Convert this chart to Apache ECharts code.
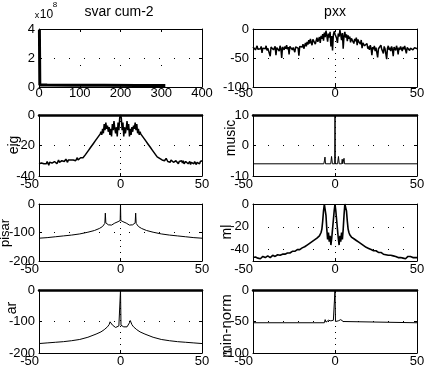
<!DOCTYPE html>
<html><head><meta charset="utf-8">
<script src="https://cdn.jsdelivr.net/npm/echarts@6/dist/echarts.min.js"></script>
<style>html,body{margin:0;padding:0;background:#fff}#c{width:436px;height:375px}</style>
</head><body><div id="c"></div>
<script>
// ---------- data ----------
const svarX = [1, 2, 20, 80, 160, 240, 310];
const svarY = [3.93, 0.14, 0.13, 0.12, 0.12, 0.11, 0.11];

// frequency axis -50 .. 50 step 0.5 (201 samples)
const freqX = [];
for (let i = 0; i <= 200; i++) freqX.push(-50 + i * 0.5);

const pxxY = [
 -31,-34,-30,-36,-33,-29,-35,-38,-32,-34,-30,-41,-33,-31,-36,-34,-29,-37,-33,-35,
 -32,-47,-31,-34,-28,-36,-33,-30,-45,-32,-35,-31,-38,-29,-34,-50,-31,-33,-36,-30,
 -34,-28,-35,-31,-44,-30,-33,-27,-36,-32,-29,-40,-31,-34,-28,-33,-46,-30,-32,-27,
 -31,-26,-34,-29,-24,-30,-22,-27,-19,-25,-17,-23,-28,-18,-21,-16,-26,-20,-15,-22,
 -18,-14,-24,-12,-17,-9,-20,-6,-14,-3,-11,-22,-8,-15,-5,-30,-12,-37,-10,-4,
 -9,
 -6,-16,-24,-8,-13,-2,-10,-19,-7,-34,-12,-5,-15,-9,-21,-11,-17,-13,-23,-16,
 -19,-14,-25,-17,-21,-15,-28,-18,-22,-20,-26,-19,-33,-24,-21,-29,-27,-31,-25,-34,
 -30,-36,-28,-33,-45,-31,-35,-29,-38,-32,-30,-49,-34,-31,-37,-28,-35,-33,-42,-30,
 -34,-31,-52,-33,-29,-36,-32,-38,-30,-35,-47,-31,-33,-37,-29,-34,-44,-32,-36,-30,
 -33,-38,-31,-35,-29,-36,-42,-32,-34,-30,-37,-33,-35,-31,-36,-34,-32,-35,-33,-34
];

const eigY = [
 -32,-31,-33,-31.5,-32.5,-30.5,-32,-33,-31,-32,-30.5,-31.5,-33,-31,-32,-30,-31.5,-32.5,-31,-30.5,
 -31.5,-30,-32,-31,-29.5,-31,-30.5,-32,-30,-31,-29.5,-30.5,-31.5,-29,-30,-31,-29.5,-30,-28.5,-29.5,
 -30,-29,-29.5,-28.5,-29,-30,-29,-28,-29.5,-28.5,-29,-28,-28.5,-27.5,-28,-27,-27.5,-26,-25.5,-24.5,
 -24,-23,-22.5,-21.5,-21,-20,-19.5,-18.5,-18,-17,-16.5,-15.5,-15,-14,-13.5,-12.5,-11,-13,-9,-12,
 -6,-10,-5,-9,-7,-11,-8,-13,-9,-14,-6,-10,-4,-9,-12,-8,-14,-5,-10,-2,
 0,
 -2,-10,-5,-14,-8,-12,-9,-4,-10,-6,-14,-9,-13,-8,-11,-7,-9,-5,-10,-6,
 -12,-9,-13,-11,-12.5,-13.5,-14,-15,-15.5,-16.5,-17,-18,-18.5,-19.5,-20,-21,-21.5,-22.5,-23,-24,
 -24.5,-25.5,-26,-27,-27.5,-28,-27,-28.5,-29,-28,-29.5,-28.5,-29,-30,-29.5,-28.5,-29,-30.5,-29.5,-30,
 -31,-29.5,-30.5,-29,-31,-30,-31.5,-30,-29.5,-31,-32,-30.5,-31,-29.5,-30,-31.5,-30,-32,-31,-30.5,
 -31.5,-30,-32,-31,-30.5,-32.5,-31,-30,-31.5,-32,-30.5,-31,-32.5,-31,-30,-31.5,-32,-30.5,-31,-30
];

const mlY = [
 -47,-46,-47.5,-46.5,-47,-46,-47.5,-46.5,-47,-48,-46.5,-47,-46,-47.5,-46.5,-47,-46,-47,-45.5,-46.5,
 -46,-47,-45.5,-46.5,-45,-46,-45.5,-46,-45,-45.5,-44.5,-45.5,-44,-45,-44.5,-45,-44,-44.5,-43.5,-44,
 -43.5,-44,-43,-43.5,-42.5,-43,-42,-42.5,-41.5,-42,-41,-41.5,-40.5,-41,-40,-40.5,-39.5,-40,-39,-39.5,
 -38.5,-39,-38,-37.5,-37,-36.5,-36,-35.5,-35,-34.5,-34,-33.5,-33,-32.5,-32,-31.5,-31,-30.5,-30,-29.5,
 -29,-28,-27,-25,-22,-15,-6,0,0,-10,-22,-31,-25,-33,-28,-36,-30,-22,-14,-6,
 0,
 -6,-14,-22,-30,-36,-28,-33,-25,-31,-22,-10,0,0,-6,-15,-22,-25,-27,-28,-29,
 -29.5,-30,-30.5,-31,-31.5,-32,-32.5,-33,-33.5,-34,-34.5,-35,-35.5,-36,-36.5,-37,-37.5,-38,-38,-38.5,
 -39,-39.5,-39,-40,-40.5,-40,-41,-40.5,-41.5,-41,-42,-41.5,-42.5,-42,-43,-42.5,-43.5,-43,-44,-43.5,
 -44,-44.5,-45,-44,-45,-44.5,-45.5,-45,-46,-45,-45.5,-46.5,-45,-46,-46.5,-45.5,-47,-46,-46.5,-47,
 -47,-46.5,-47.5,-46,-47,-48,-46.5,-47,-46,-47.5,-47,-46,-47.5,-46.5,-47,-48,-46.5,-47,-46,-47
];

const musicX = [-50,-6.8,-6.4,-6.1,-5.8,-5.4,-2.6,-2.1,-1.6,-0.2,0,0.2,1.6,2.1,2.6,4.1,4.4,4.7,5.2,5.5,5.8,50];
const musicY = [-6,-6,-4.8,-3.8,-6,-6,-6,-3.6,-6,-6,10,-6,-6,-3.6,-6,-6,-4.5,-6,-6,-4.2,-6,-6];

const pisarX = [-50,-45,-40,-35,-30,-25,-20,-16,-13,-11,-10,-9.6,-9.3,-9.0,-8.5,-7.5,-6.5,-5.5,-4.5,-3.5,-2.5,-1.5,-0.6,-0.2,0,0.2,0.6,1.5,2.5,3.5,4.5,5.5,6.5,7.5,8.5,9.0,9.3,9.6,10,11,13,16,20,25,30,35,40,45,50];
const pisarY = [-120,-118,-115,-112,-109,-105,-99,-93,-86,-79,-74,-68,-32,-66,-70,-73,-75,-74,-71,-67,-64,-62,-61,-58,0,-58,-61,-62,-64,-67,-71,-74,-75,-73,-70,-66,-32,-68,-74,-79,-86,-93,-99,-105,-109,-112,-115,-118,-120];

const arX = [-50,-45,-40,-35,-30,-25,-20,-15,-12,-10,-8,-7,-6.4,-6,-5.5,-5,-4,-3,-2,-1,-0.3,0,0.3,1,2,3,4,5,5.5,6,6.4,7,8,10,12,15,20,25,30,35,40,45,50];
const arY = [-170,-168,-166,-164,-161,-157,-150,-140,-133,-126,-117,-110,-101,-97,-104,-111,-117,-119,-117,-114,-112,0,-112,-114,-117,-119,-117,-111,-104,-97,-101,-110,-117,-126,-133,-140,-150,-157,-161,-164,-166,-168,-170];

const mnX = [-50,-6.5,-6,-5.5,-5,-4.5,-4,-3.5,-3,-2.5,-2,-1.5,-1,-0.3,0,0.3,1,1.5,2,2.5,3,3.5,4,4.5,5,5.5,6,50];
const mnY = [-52,-52,-47,-51,-49,-51,-48,-50,-47,-49,-48,-50,-48,-50,0,-50,-48,-47,-49,-48,-50,-47,-49,-46,-50,-48,-52,-52];

const titles = ['svar cum-2', 'pxx'];
const yNames = ['eig', 'music', 'pisar', 'ml', 'ar', 'min-norm'];

// ---------- chart ----------
const FONT = '"Liberation Sans Narrow","Liberation Sans",sans-serif';
const NAMEFONT = '"Liberation Sans",sans-serif';
const pairs = (xs, ys) => xs.map((x, i) => [x, ys[i]]);

const L = 39, LW = 163, R = 253, RW = 164;
const panels = [
  {grid:{left:L,top:29,width:LW,height:58}, x:[0,400,100], y:[0,4,2], data:pairs(svarX,svarY), lw:3, vDash:[1,35], minAlign:'center', xm:0, topW:1},
  {grid:{left:R,top:29,width:RW,height:58}, x:[-50,50,50], y:[-100,0,50], data:pairs(freqX,pxxY), lw:1.5, vDash:[1,5], minAlign:'right', xm:0, topW:1},
  {grid:{left:L,top:115,width:LW,height:61}, x:[-50,50,50], y:[-40,0,20], data:pairs(freqX,eigY), lw:1.5, vDash:[1,5], minAlign:'right', xm:2, topW:2.5},
  {grid:{left:R,top:115,width:RW,height:61}, x:[-50,50,50], y:[-10,10,10], data:pairs(musicX,musicY), lw:1, vDash:[1,5], minAlign:'right', xm:2, topW:2.5},
  {grid:{left:L,top:204,width:LW,height:57}, x:[-50,50,50], y:[-200,0,100], data:pairs(pisarX,pisarY), lw:1, vDash:[1,5], minAlign:'right', xm:2, topW:1},
  {grid:{left:R,top:204,width:RW,height:57}, x:[-50,50,50], y:[-50,0,10], data:pairs(freqX,mlY), lw:1.6, vDash:[1,5], minAlign:'right', xm:2, topW:1, ml:true},
  {grid:{left:L,top:290,width:LW,height:63}, x:[-50,50,50], y:[-200,0,100], data:pairs(arX,arY), lw:1, vDash:[1,5], minAlign:'right', xm:2, topW:2.5},
  {grid:{left:R,top:290,width:RW,height:63}, x:[-50,50,50], y:[-100,0,50], data:pairs(mnX,mnY), lw:1, vDash:[1,5], minAlign:'right', xm:2, topW:2.5}
];

const grids = [], xAxes = [], yAxes = [], series = [];
const tick = {inside:true, length:3, lineStyle:{color:'#000', width:1}};
panels.forEach((p, i) => {
  grids.push(Object.assign({containLabel:false}, p.grid));
  const cx = {type:'value', gridIndex:i, min:p.x[0], max:p.x[1], interval:p.x[2]};
  const cy = {type:'value', gridIndex:i, min:p.y[0], max:p.y[1], interval:p.y[2]};
  xAxes.push(Object.assign({}, cx, {
    position:'bottom',
    axisLine:{onZero:false, lineStyle:{color:'#000', width:1}},
    axisTick:tick,
    axisLabel:{color:'#000', fontFamily:FONT, fontSize:13, margin:p.xm, alignMinLabel:p.minAlign, showMinLabel:true, showMaxLabel:true},
    splitLine:{show:true, lineStyle:{color:'#000', width:1, type:p.vDash}}
  }));
  xAxes.push(Object.assign({}, cx, {
    position:'top',
    axisLine:{onZero:false, lineStyle:{color:'#000', width:p.topW}},
    axisTick:tick, axisLabel:{show:false}, splitLine:{show:false}
  }));
  const lab = {color:'#000', fontFamily:FONT, fontSize:13, margin:4, showMinLabel:true, showMaxLabel:true};
  if (p.ml) lab.formatter = v => (v === 0 || v === -20 || v === -40) ? String(v) : '';
  yAxes.push(Object.assign({}, cy, {
    position:'left',
    axisLine:{onZero:false, lineStyle:{color:'#000', width:1}},
    axisTick:p.ml ? {show:false} : tick,
    axisLabel:lab,
    splitLine:{show:!p.ml, lineStyle:{color:'#000', width:1, type:[1,14]}}
  }));
  yAxes.push(Object.assign({}, cy, {
    position:'right',
    axisLine:{onZero:false, lineStyle:{color:'#000', width:1}},
    axisTick:p.ml ? {show:false} : tick, axisLabel:{show:false}, splitLine:{show:false}
  }));
  const s = {
    type:'line', xAxisIndex:2*i, yAxisIndex:2*i, data:p.data,
    showSymbol:false, symbol:'none', silent:true, clip:true,
    lineStyle:{color:'#000', width:p.lw}
  };
  if (p.ml) s.markLine = {symbol:'none', silent:true, label:{show:false},
    lineStyle:{color:'#000', width:1, type:[1,14]},
    data:[{yAxis:-20},{yAxis:-40}]};
  series.push(s);
});

const txt = (x, y, text, size, fam) => ({type:'text', x:x, y:y, silent:true,
  style:{text:text, fontSize:size, fontFamily:fam, fill:'#000', align:'center', verticalAlign:'top'}});
const rot = (x, y, text, size) => ({type:'text', x:x, y:y, rotation:Math.PI/2, silent:true,
  style:{text:text, fontSize:size, fontFamily:NAMEFONT, fill:'#000', align:'center', verticalAlign:'middle'}});

const graphic = [
  txt(119, 5, titles[0], 14, FONT),
  txt(335, 5, titles[1], 14, FONT),
  txt(37, 11, 'x', 9, FONT),
  txt(46.5, 9, '10', 12, FONT),
  txt(55, 1, '8', 8, FONT),
  rot(14, 145, yNames[0], 14),
  rot(231, 138, yNames[1], 14),
  rot(5, 233, yNames[2], 13),
  rot(227, 232, yNames[3], 14),
  rot(12, 308, yNames[4], 14),
  rot(227, 326, yNames[5], 15)
];

const chart = echarts.init(document.getElementById('c'), null, {renderer:'canvas'});
chart.setOption({
  animation:false, backgroundColor:'#fff',
  grid:grids, xAxis:xAxes, yAxis:yAxes, series:series, graphic:graphic
});
</script></body></html>
